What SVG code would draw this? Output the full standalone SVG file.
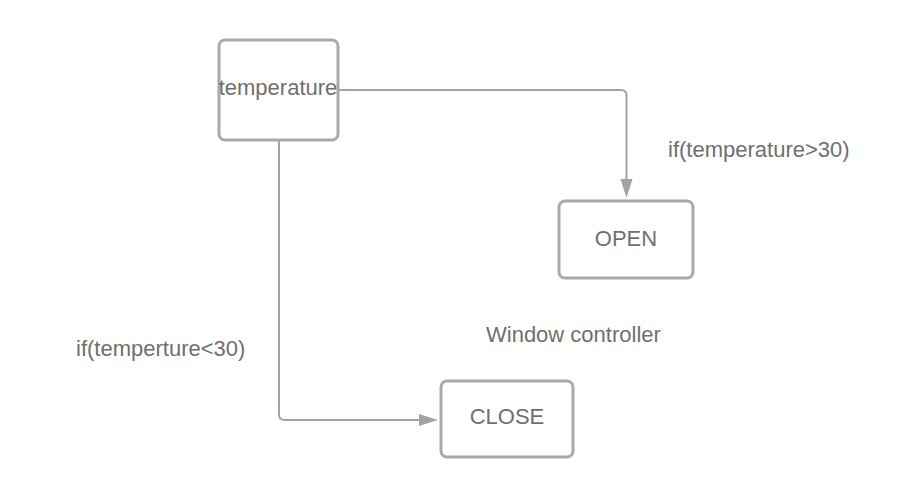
<svg xmlns="http://www.w3.org/2000/svg" width="920" height="500" viewBox="0 0 920 500">
<style>
.box{fill:#fff;stroke:#a9a9a9;stroke-width:3}
.conn{fill:none;stroke:#a3a3a3;stroke-width:2}
.t{font-family:"Liberation Sans",Arial,sans-serif;font-size:22px;fill:#6f6f6f}
.m{text-anchor:middle}
</style>
<defs>
<marker id="ah" viewBox="0 0 10 10" refX="10" refY="5" markerWidth="9" markerHeight="9" markerUnits="userSpaceOnUse" orient="auto">
<path d="M0,0 L10,5 L0,10 z" fill="#a3a3a3"/>
</marker>
</defs>
<rect width="920" height="500" fill="#fff"/>
<g id="connectors">
<path class="conn" d="M339,90 H621 Q626.5,90 626.5,95.5 V180" />
<path d="M620.5,179 L632.5,179 L626.5,198 z" fill="#a3a3a3"/>
<path class="conn" d="M279,141 V414.5 Q279,420 284.5,420 H420" />
<path d="M419,414 L419,426 L438,420 z" fill="#a3a3a3"/>
</g>
<g id="temperature">
<rect class="box" x="219" y="40" width="119" height="100" rx="6"/>
<text class="t m" x="278" y="95">temperature</text>
</g>
<g id="open">
<rect class="box" x="559" y="201" width="134" height="77" rx="6"/>
<text class="t m" x="626" y="246">OPEN</text>
</g>
<g id="close">
<rect class="box" x="441" y="381" width="132" height="76" rx="6"/>
<text class="t m" x="507" y="424">CLOSE</text>
</g>
<g id="labels">
<text class="t" x="668" y="157">if(temperature&gt;30)</text>
<text class="t" x="76" y="356">if(temperture&lt;30)</text>
<text class="t" x="486" y="342">Window controller</text>
</g>
</svg>
